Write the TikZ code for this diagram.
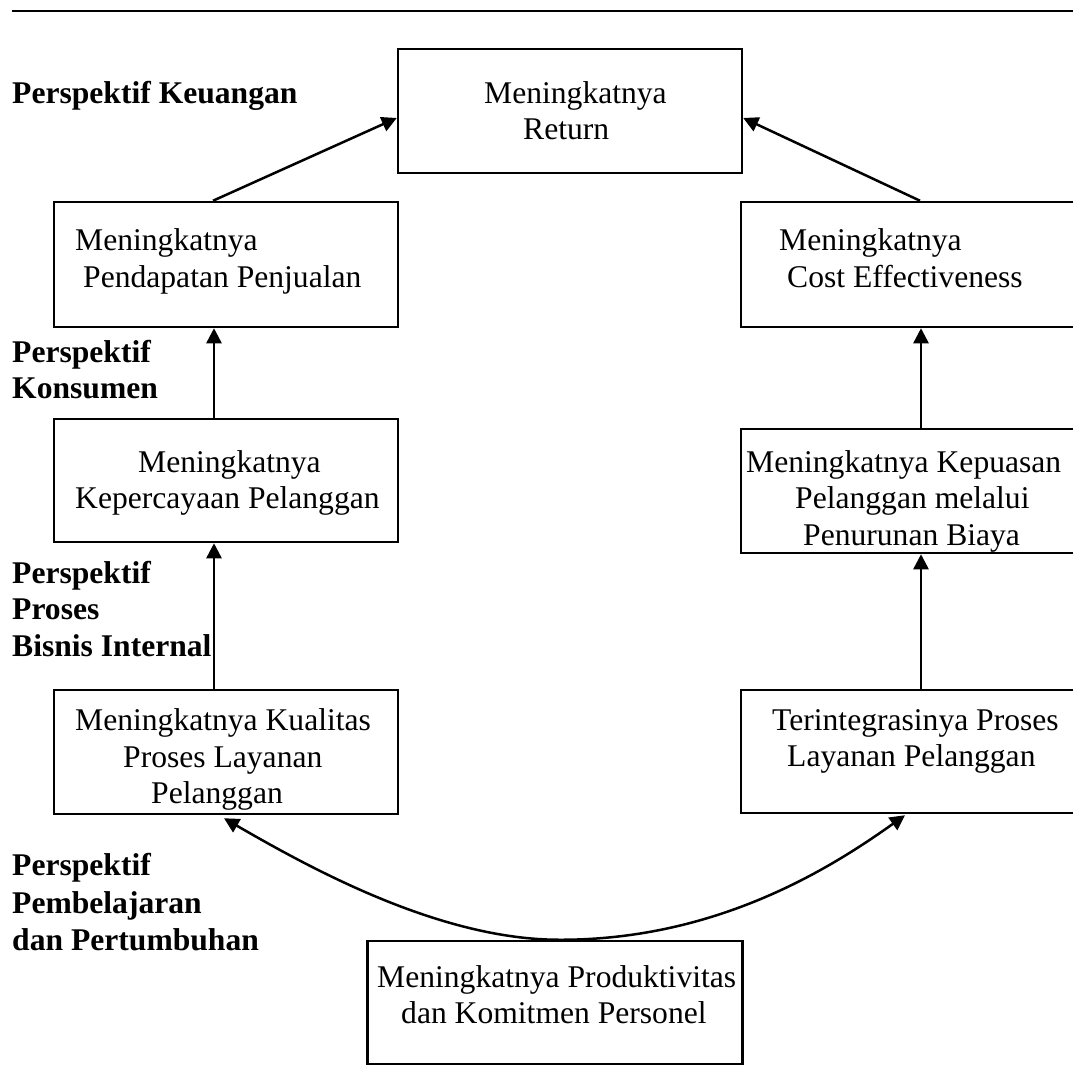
\documentclass[tikz,border=0pt]{standalone}
\usepackage{fontspec}
\setmainfont{Liberation Serif}
\usetikzlibrary{arrows.meta,calc}
\newcommand\tln[4]{\node[txt] (#1) at (#2,#3) {#4};}
\newcommand\bln[4]{\node[lbl] (#1) at (#2,#3) {#4};}
\begin{document}
\begin{tikzpicture}[x=1pt,y=-1pt,
  box/.style={draw, line width=2.5pt, inner sep=0pt},
  txt/.style={anchor=base west, inner sep=0pt, font=\fontsize{31.6}{36}\selectfont},
  lbl/.style={anchor=base west, inner sep=0pt, font=\fontsize{31.6}{36}\selectfont\bfseries},
  conn/.style={line width=2.5pt, -{Triangle[length=15pt,width=15pt]}}]
\useasboundingbox (0,0) rectangle (1073,1076);
\fill[white] (0,0) rectangle (1073,1076);
% top rule
\coordinate (rl) at (12,11);
\coordinate (rr) at (1075,11);
\draw[line width=2.5pt] (rl) -- (rr);

% boxes
\node[box, minimum width=344pt, minimum height=124pt] (ret)   at (570,111) {};
\node[box, minimum width=344pt, minimum height=125pt] (pend)  at (226,264.5) {};
\node[box, minimum width=344pt, minimum height=125pt] (cost)  at (913,264.5) {};
\node[box, minimum width=344pt, minimum height=123pt] (kep)   at (226,480.5) {};
\node[box, minimum width=344pt, minimum height=124pt] (kepu)  at (913,491) {};
\node[box, minimum width=344pt, minimum height=124pt] (kual)  at (226,752) {};
\node[box, minimum width=344pt, minimum height=123pt] (integ) at (913,751.5) {};
\node[box, minimum width=375pt, minimum height=123pt] (prod)  at (555,1002.5) {};

% box texts
\tln{ret1}{484}{103}{Meningkatnya}
\tln{ret2}{523}{139}{Return}
\tln{pend1}{75}{250}{Meningkatnya}
\tln{pend2}{83}{287}{Pendapatan Penjualan}
\tln{cost1}{779}{250}{Meningkatnya}
\tln{cost2}{787}{287}{Cost Effectiveness}
\tln{kep1}{138}{472}{Meningkatnya}
\tln{kep2}{75}{508}{Kepercayaan Pelanggan}
\tln{kepu1}{746}{472}{Meningkatnya Kepuasan}
\tln{kepu2}{795}{508}{Pelanggan melalui}
\tln{kepu3}{803}{545}{Penurunan Biaya}
\tln{kual1}{75}{730}{Meningkatnya Kualitas}
\tln{kual2}{123}{767}{Proses Layanan}
\tln{kual3}{151}{803}{Pelanggan}
\tln{integ1}{772}{730}{Terintegrasinya Proses}
\tln{integ2}{787}{766}{Layanan Pelanggan}
\tln{prod1}{377}{987}{Meningkatnya Produktivitas}
\tln{prod2}{401}{1023}{dan Komitmen Personel}

% perspective labels
\bln{pk}{12}{103}{Perspektif Keuangan}
\bln{pc1}{12}{362}{Perspektif}
\bln{pc2}{12}{398}{Konsumen}
\bln{pb1}{12}{583}{Perspektif}
\bln{pb2}{12}{619}{Proses}
\bln{pb3}{12}{656}{Bisnis Internal}
\bln{pl1}{12}{875}{Perspektif}
\bln{pl2}{12}{913}{Pembelajaran}
\bln{pl3}{12}{950}{dan Pertumbuhan}

% connectors
\draw[conn] ($(pend.north)+(-13,0)$) -- ($(ret.west)+(0,7)$);
\draw[conn] ($(cost.north)+(7,0)$) -- ($(ret.east)+(0,7)$);
\draw[conn] ($(kep.north)+(-12,0)$) -- ($(pend.south)+(-12,0)$);
\draw[conn] ($(kual.north)+(-12,0)$) -- ($(kep.south)+(-12,0)$);
\draw[conn] ($(kepu.north)+(8,0)$) -- ($(cost.south)+(8,0)$);
\draw[conn] ($(integ.north)+(8,0)$) -- ($(kepu.south)+(8,0)$);
\coordinate (cb) at ($(prod.north)+(5,0)$);
\draw[line width=2.5pt, {Triangle[length=15pt,width=15pt]}-{Triangle[length=15pt,width=15pt]}]
  ($(kual.south)+(-2,3)$) .. controls (310,868) and (440,940) .. (cb)
  .. controls (720,940) and (835,865) .. ($(integ.south)+(-8,1)$);
\end{tikzpicture}
\end{document}
